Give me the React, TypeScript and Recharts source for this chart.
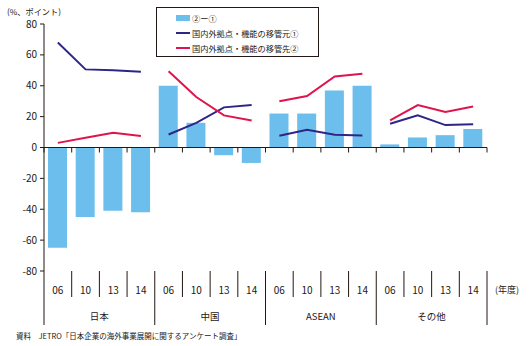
import { Bar, ComposedChart, Line, ReferenceLine, XAxis, YAxis } from 'recharts';

const periods = ['06', '10', '13', '14'];
const regions = ['日本', '中国', 'ASEAN', 'その他'];
// ②ー① (points)
const diff = [-65, -45, -41, -42, 40, 16, -5, -10, 22, 22, 37, 40, 2, 6.5, 8, 12];
// 国内外拠点・機能の移管元① (%)
const source = [68, 50.6, 50, 49, 8.4, 16, 26, 27.5, 7.6, 11.5, 8.2, 7.8, 15.4, 20.8, 14.5, 15];
// 国内外拠点・機能の移管先② (%)
const dest = [3, 6.3, 9.5, 7.4, 49.4, 32.7, 20.8, 17.5, 30, 33.3, 46, 47.8, 17.5, 27.5, 23, 26.6];
const yTicks = [-80, -60, -40, -20, 0, 20, 40, 60, 80];

const W = 529;
const H = 346;
const M = { top: 24, right: 42, bottom: 0, left: 0 };
const Y_W = 44;
const X_H = 75;
const PLOT_W = W - M.left - M.right - Y_W;
const PLOT_H = H - M.top - M.bottom - X_H;
const BAND = PLOT_W / (periods.length * regions.length);
const ZERO_Y = M.top + PLOT_H / 2;
const BOTTOM_Y = M.top + PLOT_H;

const BLUE_BAR = '#6CBEEC';
const NAVY = '#2E2686';
const RED = '#E0144C';
const INK = '#231815';
const FONT = '"Noto Sans CJK JP", "Noto Sans", sans-serif';

const data = diff.map((d, i) => {
  const g = Math.floor(i / periods.length);
  const row: Record<string, string | number> = {
    key: `${regions[g]}-${periods[i % periods.length]}`,
    period: periods[i % periods.length],
    diff: d,
  };
  row[`src${g}`] = source[i];
  row[`dst${g}`] = dest[i];
  return row;
});

function CategoryTick(props: any) {
  const { x, index, payload } = props;
  const left = x - BAND / 2;
  const right = x + BAND / 2;
  const n = periods.length;
  const isGroupStart = index % n === 0;
  const last = index === data.length - 1;
  return (
    <g>
      <line x1={left} x2={left} y1={ZERO_Y} y2={ZERO_Y + 5} stroke={INK} />
      {last && <line x1={right} x2={right} y1={ZERO_Y} y2={ZERO_Y + 5} stroke={INK} />}
      <line
        x1={left}
        x2={left}
        y1={BOTTOM_Y}
        y2={isGroupStart ? BOTTOM_Y + 54 : BOTTOM_Y + 26}
        stroke={INK}
      />
      {last && <line x1={right} x2={right} y1={BOTTOM_Y} y2={BOTTOM_Y + 54} stroke={INK} />}
      <text
        x={x}
        y={BOTTOM_Y + 23}
        textAnchor="middle"
        fontSize={10}
        fill={INK}
        fontFamily={FONT}
      >
        {data[index]?.period ?? payload.value}
      </text>
      {isGroupStart && (
        <text
          x={left + BAND * 2}
          y={BOTTOM_Y + 49}
          textAnchor="middle"
          fontSize={9.5}
          fill={INK}
          fontFamily={FONT}
        >
          {regions[index / n]}
        </text>
      )}
      {last && (
        <text
          x={right + 20}
          y={BOTTOM_Y + 22}
          textAnchor="middle"
          fontSize={9}
          fill={INK}
          fontFamily={FONT}
        >
          (年度)
        </text>
      )}
    </g>
  );
}

function LegendBox() {
  const items = [
    { label: '②ー①', color: BLUE_BAR, bar: true },
    { label: '国内外拠点・機能の移管元①', color: NAVY, bar: false },
    { label: '国内外拠点・機能の移管先②', color: RED, bar: false },
  ];
  return (
    <div
      style={{
        position: 'absolute',
        left: 156,
        top: 7,
        width: 161,
        height: 48,
        border: `1px solid ${INK}`,
        background: '#fff',
        fontFamily: FONT,
        fontSize: 8.2,
        color: INK,
      }}
    >
      {items.map((it, i) => (
        <div
          key={it.label}
          style={{
            position: 'absolute',
            left: 19,
            top: 3 + i * 15,
            height: 14,
            display: 'flex',
            alignItems: 'center',
            whiteSpace: 'nowrap',
          }}
        >
          <span
            style={{
              display: 'inline-block',
              width: 14,
              height: it.bar ? 6 : 2,
              background: it.color,
              marginRight: 2,
            }}
          />
          {it.label}
        </div>
      ))}
    </div>
  );
}

export default function App() {
  return (
    <div style={{ position: 'relative', width: W, height: H, background: '#fff' }}>
      <style>{'body{margin:0}'}</style>
      <ComposedChart width={W} height={H} data={data} margin={M} barSize={19}>
        <XAxis
          dataKey="key"
          height={X_H}
          interval={0}
          axisLine={false}
          tickLine={false}
          tickSize={0}
          tickMargin={0}
          tick={<CategoryTick />}
        />
        <YAxis
          width={Y_W}
          domain={[-80, 80]}
          ticks={yTicks}
          interval={0}
          axisLine={{ stroke: INK }}
          tickLine={{ stroke: INK }}
          tickSize={4}
          tickMargin={3}
          tick={{ fontSize: 10, fill: INK, fontFamily: FONT }}
        />
        <Bar dataKey="diff" fill={BLUE_BAR} isAnimationActive={false} />
        <ReferenceLine y={0} stroke={INK} strokeWidth={1} />
        {regions.map((r, g) => (
          <Line
            key={`src-${r}`}
            dataKey={`src${g}`}
            stroke={NAVY}
            strokeWidth={2}
            dot={false}
            activeDot={false}
            type="linear"
            isAnimationActive={false}
          />
        ))}
        {regions.map((r, g) => (
          <Line
            key={`dst-${r}`}
            dataKey={`dst${g}`}
            stroke={RED}
            strokeWidth={2}
            dot={false}
            activeDot={false}
            type="linear"
            isAnimationActive={false}
          />
        ))}
      </ComposedChart>
      <div
        style={{
          position: 'absolute',
          left: 7,
          top: 5,
          fontFamily: FONT,
          fontSize: 8.2,
          color: INK,
          whiteSpace: 'nowrap',
        }}
      >
        (%、ポイント)
      </div>
      <LegendBox />
      <div
        style={{
          position: 'absolute',
          left: 16,
          top: 330,
          fontFamily: FONT,
          fontSize: 7.5,
          color: INK,
          whiteSpace: 'nowrap',
        }}
      >
        資料　JETRO「日本企業の海外事業展開に関するアンケート調査」
      </div>
    </div>
  );
}
